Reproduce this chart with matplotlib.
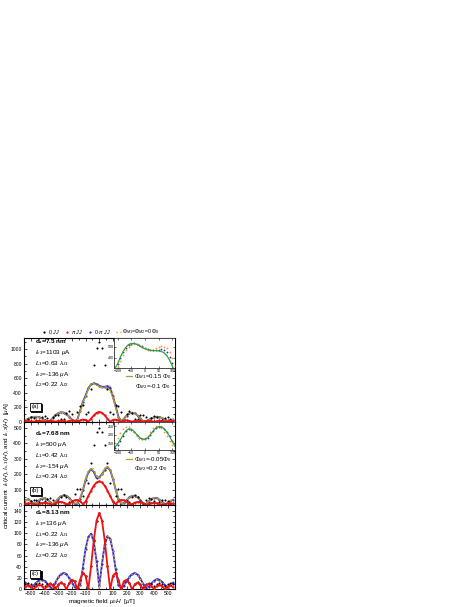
import numpy as np
import matplotlib
matplotlib.use('Agg')
import matplotlib.pyplot as plt
import matplotlib.transforms as mtransforms
from matplotlib.lines import Line2D

plt.rcParams['font.family'] = ['Liberation Sans', 'DejaVu Sans']
plt.rcParams['mathtext.fontset'] = 'custom'
plt.rcParams['mathtext.rm'] = 'Liberation Sans'
plt.rcParams['mathtext.it'] = 'Liberation Sans:italic'
plt.rcParams['mathtext.bf'] = 'Liberation Sans:bold'

# magnetic field grid [uT]
field = np.arange(-540, 541, 20)
field_in = np.arange(-110, 111, 10)

# panel (a) d_s = 7.3 nm
black_a = [0, 39, 62, 57, 23, 25, 65, 78, 53, 0, 60, 97, 91, 39, 42, 114, 141, 102, 0, 127, 222, 228, 108, 135, 456, 778, 1016,
           1103,
           1016, 778, 456, 135, 108, 228, 222, 127, 0, 102, 141, 114, 42, 39, 91, 97, 60, 0, 53, 78, 65, 25, 23, 57, 62, 39, 0]
red_a = [4, 7, 5, 0, 5, 8, 6, 0, 6, 10, 7, 0, 8, 12, 9, 0, 11, 17, 14, 0, 17, 29, 24, 0, 41, 87, 122,
         136,
         122, 87, 41, 0, 24, 29, 17, 0, 14, 17, 11, 0, 9, 12, 8, 0, 7, 10, 6, 0, 6, 8, 5, 0, 5, 7, 4]
blue_a = [20, 40, 58, 66, 68, 62, 45, 22, 8, 15, 50, 90, 118, 130, 126, 105, 70, 30, 5, 30, 150, 270, 360, 460, 515, 530, 515,
          495,
          482, 478, 490, 470, 350, 210, 70, 8, 40, 85, 115, 125, 115, 85, 45, 10, 5, 25, 45, 60, 68, 65, 50, 30, 10, 15, 30]
orange_a = [25, 45, 62, 70, 68, 58, 38, 15, 3, 20, 58, 96, 122, 132, 124, 100, 62, 22, 3, 20, 130, 250, 345, 445, 505, 520, 510,
            490,
            475, 485, 500, 485, 375, 230, 85, 10, 35, 80, 112, 126, 120, 92, 52, 14, 3, 22, 45, 62, 70, 67, 52, 32, 10, 12, 28]
olive_a = [22, 42, 60, 68, 69, 62, 44, 20, 5, 16, 52, 92, 120, 131, 126, 104, 68, 28, 4, 28, 145, 265, 345, 455, 520, 528, 505,
           485,
           472, 468, 462, 430, 320, 195, 65, 8, 40, 84, 114, 124, 115, 86, 46, 10, 5, 24, 45, 60, 67, 64, 50, 30, 10, 14, 30]
ins_blue_a = [290, 340, 400, 450, 490, 515, 530, 535, 530, 518, 503, 490, 478, 472, 470, 470, 473, 476, 470, 450, 410, 350, 285]
ins_orange_a = [265, 315, 375, 430, 472, 500, 515, 522, 522, 512, 498, 485, 475, 470, 474, 485, 497, 503, 500, 485, 450, 395, 330]
ins_green_a = [300, 345, 405, 455, 495, 520, 530, 530, 522, 508, 493, 482, 474, 468, 465, 465, 463, 458, 445, 420, 380, 325, 265]

# panel (b) d_s = 7.68 nm
black_b = [13, 5, 23, 34, 34, 21, 0, 24, 41, 45, 33, 8, 24, 52, 64, 54, 22, 25, 73, 104, 103, 60, 25, 142, 272, 389, 471,
           500,
           471, 389, 272, 142, 25, 60, 103, 104, 73, 25, 22, 54, 64, 52, 24, 8, 33, 45, 41, 24, 0, 21, 34, 34, 23, 5, 13]
red_b = [8, 11, 10, 6, 0, 7, 12, 14, 12, 6, 2, 11, 18, 20, 16, 6, 7, 21, 31, 33, 25, 6, 22, 58, 94, 125, 146,
         154,
         146, 125, 94, 58, 22, 6, 25, 33, 31, 21, 7, 6, 16, 20, 18, 11, 2, 6, 12, 14, 12, 7, 0, 6, 10, 11, 8]
blue_b = [30, 38, 25, 8, 15, 32, 42, 44, 36, 20, 5, 20, 42, 57, 63, 60, 46, 26, 8, 10, 40, 95, 160, 212, 232, 215, 175,
          180,
          200, 230, 245, 225, 170, 100, 40, 8, 12, 32, 50, 60, 60, 50, 32, 12, 5, 22, 38, 46, 45, 35, 20, 6, 12, 26, 34]
orange_b = [28, 36, 24, 6, 14, 33, 44, 45, 37, 20, 4, 22, 44, 58, 64, 59, 44, 22, 5, 14, 48, 105, 170, 220, 240, 232, 195,
            172,
            195, 240, 252, 232, 170, 95, 35, 5, 15, 35, 52, 62, 60, 48, 28, 8, 8, 25, 40, 47, 44, 33, 17, 4, 14, 28, 35]
olive_b = [30, 37, 24, 7, 15, 33, 43, 44, 36, 19, 5, 21, 43, 57, 62, 59, 45, 25, 7, 11, 42, 98, 162, 215, 234, 218, 182,
           176,
           198, 232, 247, 228, 172, 102, 42, 9, 11, 31, 49, 59, 60, 50, 32, 12, 5, 22, 38, 46, 45, 35, 20, 6, 12, 26, 34]
ins_blue_b = [120, 140, 165, 195, 220, 232, 230, 218, 200, 183, 173, 172, 180, 198, 220, 238, 246, 245, 235, 215, 190, 162, 135]
ins_orange_b = [150, 180, 210, 235, 245, 243, 232, 215, 195, 178, 172, 178, 195, 218, 240, 252, 250, 238, 218, 192, 165, 140, 118]
ins_green_b = [125, 145, 170, 198, 222, 234, 232, 220, 202, 185, 175, 174, 182, 200, 222, 240, 248, 247, 236, 216, 190, 160, 132]

# panel (c) d_s = 8.13 nm
black_c = [10, 12, 10, 6, 9, 11, 9, 5, 9, 12, 9, 4, 10, 13, 10, 3, 11, 17, 14, 2, 17, 29, 24, 2, 41, 87, 122,
           136,
           122, 87, 41, 2, 24, 29, 17, 2, 14, 17, 11, 3, 10, 13, 10, 4, 9, 12, 9, 5, 9, 11, 9, 6, 10, 12, 10]
red_c = [4, 7, 5, 0, 5, 8, 6, 0, 6, 10, 7, 0, 8, 12, 9, 0, 11, 17, 14, 0, 17, 29, 24, 0, 41, 87, 122,
         136,
         122, 87, 41, 0, 24, 29, 17, 0, 14, 17, 11, 0, 9, 12, 8, 0, 7, 10, 6, 0, 6, 8, 5, 0, 5, 7, 4]
blue_c = [12, 8, 3, 7, 12, 16, 17, 15, 10, 4, 2, 12, 21, 27, 29, 27, 20, 12, 4, 3, 8, 38, 72, 93, 99, 85, 50,
          5,
          45, 80, 94, 90, 68, 36, 8, 2, 6, 14, 22, 27, 29, 26, 19, 10, 3, 4, 10, 15, 18, 17, 13, 7, 3, 8, 12]
orange_c = [10, 5, 0, 5, 11, 15, 16, 13, 7, 1, 3, 13, 22, 28, 29, 26, 19, 10, 2, 1, 6, 36, 70, 92, 99, 84, 47,
            0,
            44, 80, 95, 91, 69, 37, 7, 1, 5, 13, 21, 27, 29, 26, 18, 9, 2, 3, 9, 14, 17, 16, 12, 6, 1, 6, 11]

panel_text = {
    'a': [r"$\mathbf{d_s}$=7.3 nm", r"$I_{c1}$=1103 $\mu$A", r"$L_1$=0.63 $\lambda_{J1}$",
          r"$I_{c2}$=-136 $\mu$A", r"$L_2$=0.22 $\lambda_{J2}$"],
    'b': [r"$\mathbf{d_s}$=7.68 nm", r"$I_{c1}$=500 $\mu$A", r"$L_1$=0.42 $\lambda_{J1}$",
          r"$I_{c2}$=-154 $\mu$A", r"$L_2$=0.24 $\lambda_{J2}$"],
    'c': [r"$\mathbf{d_s}$=8.13 nm", r"$I_{c1}$=136 $\mu$A", r"$L_1$=0.22 $\lambda_{J1}$",
          r"$I_{c2}$=-136 $\mu$A", r"$L_2$=0.22 $\lambda_{J2}$"],
}

c_black = 'black'
c_red = '#f01010'
c_blue = '#2030e0'
c_orange = '#ff9830'
c_olive = '#b0a020'
c_green = '#30a030'

fig = plt.figure(figsize=(4.69, 6.07), dpi=100)
L = 24 / 469
W = 150.5 / 469
ax_a = fig.add_axes([L, 0.3053, W, 0.1379])
ax_b = fig.add_axes([L, 0.1680, W, 0.1373])
ax_c = fig.add_axes([L, 0.0292, W, 0.1389])


def style(ax, yticks, ylim, ymin_step):
    ax.set_xlim(-540, 540)
    ax.set_ylim(*ylim)
    ax.set_xticks(np.arange(-500, 501, 100))
    ax.set_xticks(np.arange(-550, 551, 50), minor=True)
    ax.set_yticks(yticks)
    ax.set_yticks(np.arange(ylim[0], ylim[1], ymin_step), minor=True)
    ax.tick_params(which='both', direction='in', top=True, right=True, labelsize=3.6, width=0.5, pad=1.5)
    ax.tick_params(which='major', length=2.2)
    ax.tick_params(which='minor', length=1.2)
    for s in ax.spines.values():
        s.set_linewidth(0.8)


def curves(ax, black, red, blue, orange, olive=None):
    ax.plot(field, blue, color=c_blue, lw=1.3, marker='o', ms=1.6, mew=0, zorder=2)
    ax.plot(field, orange, color=c_orange, lw=1.1, ls=':', zorder=3)
    if olive is not None:
        ax.plot(field, olive, color=c_olive, lw=0.8, zorder=4)
    ax.plot(field, black, color=c_black, ls='none', marker='o', ms=1.5, mew=0, zorder=5)
    ax.plot(field, red, color=c_red, lw=1.3, marker='o', ms=1.6, mew=0, zorder=6)


def texts(ax, lines, ys, box, box_y):
    for s, y in zip(lines, ys):
        ax.text(0.073, y, s, transform=ax.transAxes, fontsize=4.6, va='center', ha='left',
                fontweight='bold' if 'd_s' in s else 'normal')
    shadow = mtransforms.offset_copy(ax.transAxes, fig=fig, x=1.2, y=-1.2, units='dots')
    ax.text(0.075, box_y, box, transform=shadow, fontsize=4.4, ha='center', va='center', color='black',
            bbox=dict(boxstyle='square,pad=0.25', fc='black', ec='black', lw=0.6), zorder=9)
    ax.text(0.075, box_y, box, transform=ax.transAxes, fontsize=4.4, ha='center', va='center',
            bbox=dict(boxstyle='square,pad=0.25', fc='white', ec='black', lw=0.6), zorder=10)


def phi_label(ax, s1, s2, y1, y2, x2):
    ax.legend([Line2D([], [], color=c_olive, lw=0.9)], [s1], loc='center right',
              bbox_to_anchor=(1.0, y1), frameon=False, fontsize=4.4, handlelength=1.0,
              handletextpad=0.3, borderpad=0.0, borderaxespad=0.5)
    ax.text(x2, y2, s2, transform=ax.transAxes, fontsize=4.4, ha='right', va='center')


def inset(rect, blue, orange, green, ylim, yticks):
    ins = fig.add_axes(rect)
    ins.plot(field_in, blue, color=c_blue, ls='none', marker='o', ms=1.3, mew=0)
    ins.plot(field_in, orange, color=c_orange, ls='none', marker='o', ms=1.3, mew=0)
    ins.plot(field_in, green, color=c_green, lw=0.9)
    ins.set_xlim(-112, 108)
    ins.set_ylim(*ylim)
    ins.set_xticks([-100, -50, 0, 50, 100])
    ins.set_yticks(yticks)
    ins.tick_params(direction='in', top=True, right=True, labelsize=2.6, length=1.3, width=0.4, pad=0.6)
    for s in ins.spines.values():
        s.set_linewidth(0.5)
    return ins


style(ax_a, [0, 200, 400, 600, 800, 1000], (0, 1155), 100)
style(ax_b, [0, 100, 200, 300, 400, 500], (0, 540), 50)
style(ax_c, [0, 20, 40, 60, 80, 100, 120, 140], (0, 150), 10)
ax_a.tick_params(labelbottom=False)
ax_b.tick_params(labelbottom=False)

curves(ax_a, black_a, red_a, blue_a, orange_a, olive_a)
curves(ax_b, black_b, red_b, blue_b, orange_b, olive_b)
curves(ax_c, black_c, red_c, blue_c, orange_c)

texts(ax_a, panel_text['a'], [0.952, 0.824, 0.698, 0.566, 0.438], '(a)', 0.178)
texts(ax_b, panel_text['b'], [0.861, 0.729, 0.597, 0.468, 0.336], '(b)', 0.17)
texts(ax_c, panel_text['c'], [0.905, 0.778, 0.648, 0.529, 0.403], '(c)', 0.184)

phi_label(ax_a, r"$\Phi_{M1}$=0.15 $\Phi_0$", r"$\Phi_{M2}$=-0.1 $\Phi_0$", 0.54, 0.425, 0.975)
phi_label(ax_b, r"$\Phi_{M1}$=-0.05$\Phi_0$", r"$\Phi_{M2}$=0.2 $\Phi_0$", 0.545, 0.435, 0.955)

inset([114.3 / 469, 1 - 367.7 / 607, 60.2 / 469, 29.7 / 607], ins_blue_a, ins_orange_a, ins_green_a, (310, 580), [400, 500])
inset([114.3 / 469, 1 - 450.0 / 607, 60.2 / 469, 28.0 / 607], ins_blue_b, ins_orange_b, ins_green_b, (110, 275), [150, 200, 250])

handles = [Line2D([], [], color=c_black, ls='none', marker='o', ms=1.6, mew=0),
           Line2D([], [], color=c_red, ls='none', marker='o', ms=1.6, mew=0),
           Line2D([], [], color=c_blue, ls='none', marker='o', ms=1.6, mew=0),
           Line2D([], [], color=c_orange, ls=':', lw=1.0)]
labels = [r"0 $JJ$", r"$\pi$ $JJ$", r"0-$\pi$ $JJ$", r"$\Phi_{M1}$=$\Phi_{M2}$=0 $\Phi_0$"]
fig.legend(handles, labels, loc='center', bbox_to_anchor=(101 / 469, 1 - 332 / 607), ncol=4, frameon=False,
           fontsize=3.8, handlelength=0.8, handletextpad=0.3, columnspacing=1.0)

fig.text(102 / 469, 1 - 601 / 607, r"magnetic field $\mu_0H$  [$\mu$T]", ha='center', va='center', fontsize=4.6)
fig.text(7 / 469, 1 - 465 / 607,
         r"critical current  $I_c(H)$, $I_{c,1}(H)$, and $I_{c,2}(H)$  [$\mu$A]",
         ha='center', va='center', rotation=90, fontsize=4.6)

fig.savefig('out.png', dpi=100)
